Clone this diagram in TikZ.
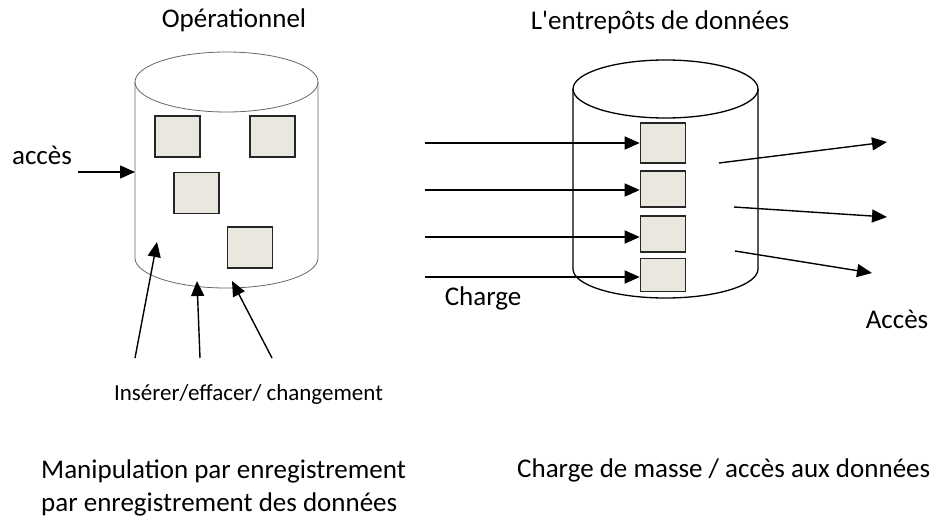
\documentclass[tikz,border=0pt]{standalone}
\usepackage{fontspec}
\setmainfont{Carlito}
\usetikzlibrary{arrows.meta}
\definecolor{boxfill}{RGB}{234,232,222}
\tikzset{
  box/.style={draw=black!85,line width=1.6pt,fill=boxfill,inner sep=0pt,minimum width=45pt,minimum height=41pt},
  arr/.style={line width=1.4pt,-{Triangle[length=15pt,width=13pt]}},
  lbl/.style={font=\fontsize{27}{33}\selectfont,anchor=base,inner sep=0pt},
}

\begin{document}
\begin{tikzpicture}[x=1pt,y=-1pt]
  \useasboundingbox (0,0) rectangle (949,519);
  % Left-hand side part of the Figure
  \draw[black!60,line width=0.8pt] (135,82) -- (135,258)
    arc[start angle=180,end angle=0,x radius=91.5,y radius=30] -- (318,82);
  \draw[black!60,line width=0.8pt] (226.5,82) ellipse[x radius=91.5,y radius=30];
  \node[box]  (opA)  at (177.5,136.5) {};
  \node[box]  (opB)  at (272.5,136.5) {};
  \node[box]  (opC)  at (196.5,193)   {};
  \node[box]  (opD)  at (250,247.5)   {};
  \node[lbl]  (op)   at (234,28)  {Opérationnel};
  \node[lbl]  (acc)  at (42,164)  {accès};
  \coordinate (accin) at (78,172);
  \coordinate (opL)   at (135,172);
  \draw[arr] (accin) -- (opL);
  \coordinate (ins1) at (135,358);
  \coordinate (ins2) at (200,358);
  \coordinate (ins3) at (272,358);
  \coordinate (tip1) at (157,242);
  \coordinate (tip2) at (197,281);
  \coordinate (tip3) at (232,281);
  \draw[arr] (ins1) -- (tip1);
  \draw[arr] (ins2) -- (tip2);
  \draw[arr] (ins3) -- (tip3);
  \node[lbl,font=\fontsize{23}{28}\selectfont] (ins) at (248.5,400) {Insérer/effacer/ changement};
  \node[lbl,anchor=base west,align=left] (manip) at (41,511)
    {Manipulation par enregistrement\\par enregistrement des données};
  % Right-hand side part of the Figure
  \draw[line width=1.3pt] (573,89) -- (573,269)
    arc[start angle=180,end angle=0,x radius=92.5,y radius=29] -- (758,89);
  \draw[line width=1.3pt] (665.5,89) ellipse[x radius=92.5,y radius=29];
  \node[box,minimum width=45pt,minimum height=40pt] (dwA) at (663,143)   {};
  \node[box,minimum width=45pt,minimum height=36pt] (dwB) at (663,189)   {};
  \node[box,minimum width=45pt,minimum height=36pt] (dwC) at (663,234)   {};
  \node[box,minimum width=45pt,minimum height=33pt] (dwD) at (663,275)   {};
  \node[lbl]  (dw)   at (660,30)  {L\textquotesingle entrepôts de données};
  \coordinate (ld1) at (425,143);
  \coordinate (ld2) at (425,190);
  \coordinate (ld3) at (425,237);
  \coordinate (ld4) at (425,277);
  \draw[arr] (ld1) -- (ld1 -| dwA.west);
  \draw[arr] (ld2) -- (ld2 -| dwB.west);
  \draw[arr] (ld3) -- (ld3 -| dwC.west);
  \draw[arr] (ld4) -- (ld4 -| dwD.west);
  \node[lbl]  (chg)  at (483,305) {Charge};
  \coordinate (out1) at (719,163);
  \coordinate (out2) at (734,207);
  \coordinate (out3) at (735,251);
  \coordinate (end1) at (887,142);
  \coordinate (end2) at (887,217);
  \coordinate (end3) at (872,273);
  \draw[arr] (out1) -- (end1);
  \draw[arr] (out2) -- (end2);
  \draw[arr] (out3) -- (end3);
  \node[lbl]  (Acc)  at (897,328) {Accès};
  \node[lbl,anchor=base west] (mass) at (517,477) {Charge de masse / accès aux données};
\end{tikzpicture}
\end{document}
